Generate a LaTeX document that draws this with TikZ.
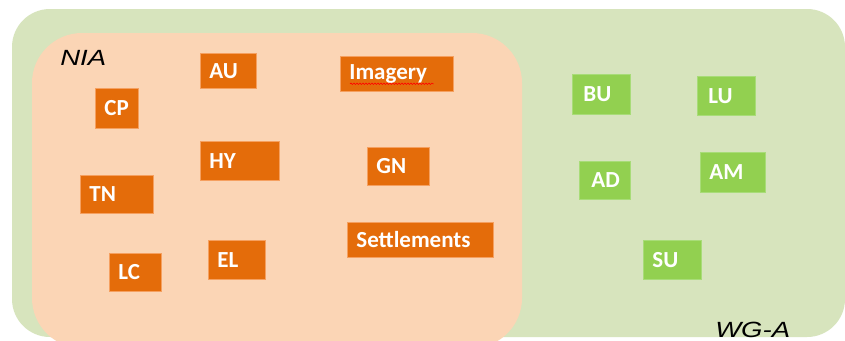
\documentclass[tikz,border=0pt]{standalone}
\usepackage{fontspec}
\setmainfont{Carlito}
\newfontfamily\handfont{Liberation Sans}
\usetikzlibrary{decorations.pathmorphing}
\definecolor{outergreen}{HTML}{D7E4BD}
\definecolor{peach}{HTML}{FBD5B5}
\definecolor{orbox}{HTML}{E46C0A}
\definecolor{orborder}{HTML}{F5A060}
\definecolor{grbox}{HTML}{92D050}
\definecolor{grborder}{HTML}{A8DC78}
\begin{document}
\begin{tikzpicture}[x=1pt,y=-1pt,
  bxbase/.style={anchor=north west, inner ysep=0pt, align=left, text=white,
    font=\fontsize{23}{26}\selectfont\bfseries, line width=0.8pt},
  obox/.style={bxbase, fill=orbox, draw=orborder, inner xsep=9pt},
  gbox/.style={bxbase, fill=grbox, draw=grborder, inner xsep=#1},
  gbox/.default=10pt,
  hand/.style={font=\handfont\itshape\fontsize{22}{24}\selectfont, inner sep=0pt, anchor=base west, xscale=1.25}]
\useasboundingbox (0,0) rectangle (845,340);
\clip (0,0) rectangle (845,340);
\fill[white] (0,0) rectangle (845,340);
\fill[outergreen, rounded corners=38pt] (12,9) rectangle (845,337);
\fill[peach, rounded corners=50pt] (32,33) rectangle (522,348);
% orange boxes
\node[obox, text width=38pt, minimum height=35pt] (AU) at (200,53) {AU};
\node[obox, text width=25pt, minimum height=40pt] (CP) at (95,88) {CP};
\node[obox, text width=61pt, minimum height=39pt] (HY) at (200,141) {HY};
\node[obox, text width=95pt, minimum height=35pt] (IM) at (340,56) {Imagery};
\node[obox, text width=44pt, minimum height=38pt] (GN) at (367,147) {GN};
\node[obox, text width=55pt, minimum height=38pt] (TN) at (80,175) {TN};
\node[obox, text width=34pt, minimum height=38pt] (LC) at (109,253) {LC};
\node[obox, text width=39pt, minimum height=39pt] (EL) at (208,240) {EL};
\node[obox, text width=128pt, minimum height=35pt] (SE) at (347,222) {Settlements};
% green boxes
\node[gbox=11pt, text width=36pt, minimum height=40pt] (BU) at (572,74) {BU};
\node[gbox=11pt, text width=36pt, minimum height=39pt] (LU) at (697,76) {LU};
\node[gbox=12pt, text width=27pt, minimum height=38pt] (AD) at (579,161) {AD};
\node[gbox=9pt, text width=47pt, minimum height=40pt] (AM) at (700,152) {AM};
\node[gbox=9pt, text width=40pt, minimum height=39pt] (SU) at (643,240) {SU};
% spell-check squiggle
\draw[red, line width=0.6pt, decorate, decoration={snake, amplitude=0.7pt, segment length=3pt}]
  ([xshift=10pt,yshift=8pt]IM.south west) -- ([xshift=-20pt,yshift=8pt]IM.south east);
% labels
\node[hand] (NIA) at (60,65) {NIA};
\node[hand] (WGA) at (715,337) {WG-A};
\end{tikzpicture}
\end{document}
